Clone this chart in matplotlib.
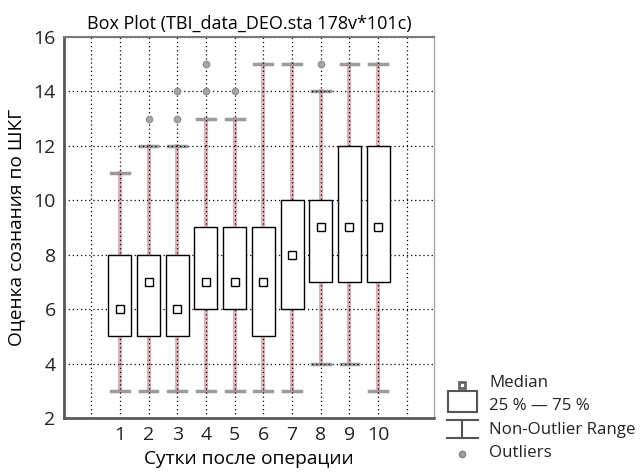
import numpy as np
import matplotlib.pyplot as plt
from matplotlib.patches import Rectangle
from matplotlib.lines import Line2D

plt.rcParams['font.family'] = ['Open Sans', 'DejaVu Sans']

# data
days = [1, 2, 3, 4, 5, 6, 7, 8, 9, 10]
medians = [6, 7, 6, 7, 7, 7, 8, 9, 9, 9]
q1 = [5, 5, 5, 6, 6, 5, 6, 7, 7, 7]
q3 = [8, 8, 8, 9, 9, 9, 10, 10, 12, 12]
whis_lo = [3, 3, 3, 3, 3, 3, 3, 4, 4, 3]
whis_hi = [11, 12, 12, 13, 13, 15, 15, 14, 15, 15]
outliers = [[], [13], [13, 14], [14, 15], [14], [], [], [15], [], []]

stats = []
for i in range(len(days)):
    stats.append(dict(med=medians[i], q1=q1[i], q3=q3[i],
                      whislo=whis_lo[i], whishi=whis_hi[i], fliers=outliers[i]))

fig = plt.figure(figsize=(6.43, 4.73), dpi=100)
ax = fig.add_axes([0.0995, 0.1163, 0.5755, 0.8055])

ax.bxp(stats, positions=days, widths=0.8, patch_artist=True,
       boxprops=dict(facecolor='white', edgecolor='black', linewidth=1.0, zorder=3),
       whiskerprops=dict(color='#dcb4ba', linewidth=3, zorder=1),
       capprops=dict(color='#a09a9c', linewidth=2.5, zorder=1),
       medianprops=dict(linestyle='none'),
       capwidths=0.62,
       flierprops=dict(marker='o', markersize=4.5, markerfacecolor='#a8a8a8',
                       markeredgecolor='#909090'))
ax.plot(days, medians, 's', markersize=6, markerfacecolor='white',
        markeredgecolor='black', markeredgewidth=1.0, zorder=4, linestyle='none')

ax.set_xlim(-0.95, 11.95)
ax.set_ylim(2, 16)
ax.set_xticks(np.arange(0, 12))
ax.set_xticklabels([''] + [str(d) for d in days] + [''])
ax.set_yticks(np.arange(2, 17, 2))
ax.tick_params(length=0, labelsize=14, colors='#222222', pad=6)
ax.grid(True, color='black', linestyle=(0, (1, 2.3)), linewidth=0.9, zorder=1.5)

for s in ['left', 'bottom']:
    ax.spines[s].set_linewidth(2)
    ax.spines[s].set_color('#5a5a5a')
ax.spines['top'].set_linewidth(1.5)
ax.spines['top'].set_color('#7a7a7a')
ax.spines['right'].set_linewidth(1)
ax.spines['right'].set_color('#a8a8a8')

ax.set_title('Box Plot (TBI_data_DEO.sta 178v*101c)', fontsize=13, pad=6)
ax.set_xlabel('Сутки после операции', fontsize=13.8, labelpad=4)
ax.set_ylabel('Оценка сознания по ШКГ', fontsize=13.8, labelpad=6)

# legend drawn in its own small axes (units are pixels from its corner)
lg = fig.add_axes([0.68, 0.0, 0.32, 0.25])
lg.set_xlim(0, 206)
lg.set_ylim(118, 0)
lg.axis('off')
lg.plot([25], [30], 's', markersize=5, markerfacecolor='white',
        markeredgecolor='#666666', markeredgewidth=2)
lg.add_patch(Rectangle((11, 36), 29, 21, facecolor='white', edgecolor='#555555', linewidth=1.5))
lg.add_line(Line2D([10, 41], [65, 65], color='#555555', linewidth=1.5))
lg.add_line(Line2D([25, 25], [65, 83], color='#555555', linewidth=1.5))
lg.add_line(Line2D([10, 41], [83, 83], color='#555555', linewidth=1.5))
lg.plot([25], [99], 'o', markersize=4.5, markerfacecolor='#a0a0a0', markeredgecolor='#808080')
labels = ['Median', '25 % — 75 %', 'Non-Outlier Range', 'Outliers']
for k, t in enumerate(labels):
    lg.text(52, 28 + k * 23.3, t, fontsize=12.2, va='center', ha='left', color='#222222')

fig.savefig('out.png', dpi=100)
